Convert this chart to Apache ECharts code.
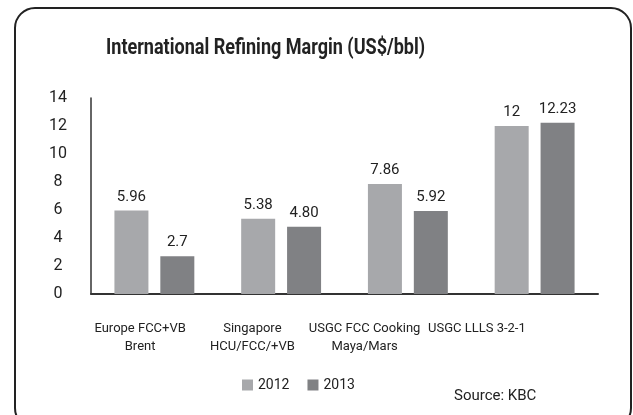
<!DOCTYPE html>
<html>
<head>
<meta charset="utf-8">
<script src="https://cdn.jsdelivr.net/npm/echarts@6/dist/echarts.min.js"></script>
<style>
  html, body { margin: 0; padding: 0; background: #fff; }
  #chart { width: 633px; height: 415px; }
</style>
</head>
<body>
<div id="chart"></div>
<script>
var categories = ['Europe FCC+VB\nBrent', 'Singapore\nHCU/FCC/+VB', 'USGC FCC Cooking\nMaya/Mars', 'USGC LLLS 3-2-1']
var years = ['2012', '2013']
var values2012 = [5.96, 5.38, 7.86, 12]
var values2013 = [2.7, 4.80, 5.92, 12.23]
var labels2012 = ['5.96', '5.38', '7.86', '12']
var labels2013 = ['2.7', '4.80', '5.92', '12.23']

var font = "Roboto, 'Liberation Sans', sans-serif"
var dark = '#222'

var echart = echarts.init(document.getElementById('chart'))

function barLabel(texts) {
    return {
        show: true,
        position: 'top',
        distance: 6,
        color: dark,
        fontSize: 15,
        fontFamily: font,
        formatter: function (p) { return texts[p.dataIndex] }
    }
}

var option = {
    backgroundColor: '#fff',
    animation: false,
    graphic: [{
        // rounded frame round the chart
        type: 'rect',
        shape: { x: 15, y: 8, width: 616, height: 420, r: 20 },
        style: { fill: 'none', stroke: dark, lineWidth: 2 },
        silent: true
    }, {
        // title, squeezed to look like the condensed face of the original
        type: 'text',
        x: 106,
        y: 37,
        scaleX: 0.82,
        style: {
            text: 'International Refining Margin (US$/bbl)',
            fill: dark,
            font: "bold 22px Roboto, 'Liberation Sans', sans-serif"
        }
    }, {
        type: 'text',
        x: 454,
        y: 389,
        style: { text: 'Source: KBC', fill: dark, fontSize: 15, fontFamily: font }
    }],
    legend: {
        data: years,
        left: 237,
        top: 373,
        itemWidth: 11,
        itemHeight: 11,
        itemGap: 18,
        icon: 'rect',
        textStyle: { fontSize: 14, color: dark, fontFamily: font }
    },
    grid: [
        { left: 91, right: 35, top: 98, bottom: 121 },
        // grid only used for the category labels, which sit on a narrower span
        { left: 84, right: 100, top: 98, bottom: 121 }
    ],
    xAxis: [{
        type: 'category',
        gridIndex: 0,
        data: categories,
        axisLine: { lineStyle: { color: '#333', width: 2 } },
        axisTick: { show: false },
        axisLabel: { show: false }
    }, {
        type: 'category',
        gridIndex: 1,
        data: categories,
        axisLine: { show: false },
        axisTick: { show: false },
        axisLabel: {
            interval: 0,
            margin: 26,
            color: dark,
            fontSize: 13,
            lineHeight: 18,
            fontFamily: font
        }
    }],
    yAxis: [{
        type: 'value',
        gridIndex: 0,
        min: 0,
        max: 14,
        interval: 2,
        axisLine: { show: true, lineStyle: { color: '#333', width: 1.5 } },
        axisTick: { show: false },
        splitLine: { show: false },
        axisLabel: {
            margin: 33,
            align: 'center',
            color: dark,
            fontSize: 16,
            fontFamily: font
        }
    }, {
        type: 'value',
        gridIndex: 1,
        show: false
    }],
    series: [{
        name: years[0],
        type: 'bar',
        data: values2012,
        barWidth: 34,
        barGap: '35%',
        itemStyle: { color: '#a7a8ab' },
        label: barLabel(labels2012)
    }, {
        name: years[1],
        type: 'bar',
        data: values2013,
        barWidth: 34,
        barGap: '35%',
        itemStyle: { color: '#808184' },
        label: barLabel(labels2013)
    }]
}

echart.setOption(option)
</script>
</body>
</html>
